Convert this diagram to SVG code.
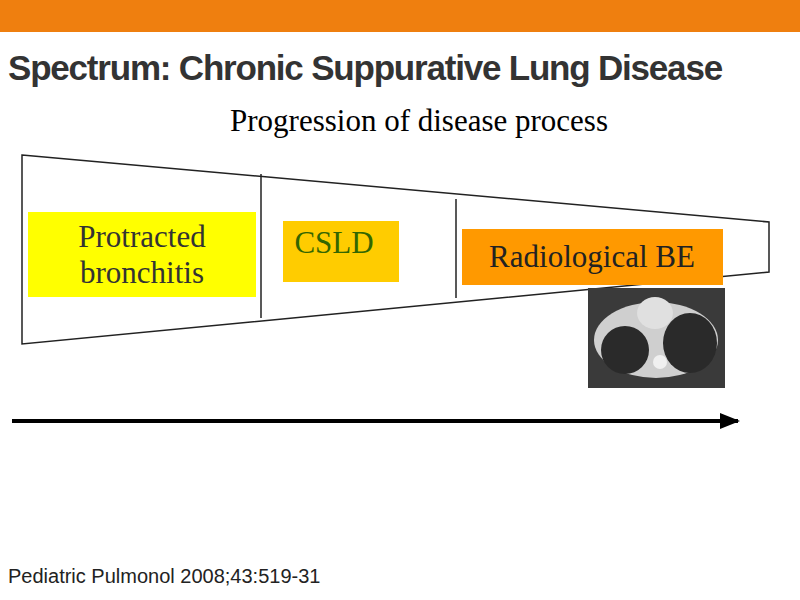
<svg xmlns="http://www.w3.org/2000/svg" width="800" height="600" viewBox="0 0 800 600">
<style>
.t{font-family:"Liberation Serif",serif;font-size:31px;text-anchor:middle}
.ln{stroke:#222;stroke-width:1.5;fill:none}
</style>
<defs><marker id="ah" markerWidth="20" markerHeight="16" refX="18" refY="8" orient="auto" markerUnits="userSpaceOnUse" viewBox="0 0 20 16"><path d="M0,0 L20,8 L0,16z" fill="#000"/></marker></defs>
<rect width="800" height="600" fill="#fff"/>
<rect x="0" y="0" width="800" height="32" fill="#EF7F0F"/>
<text x="8" y="80" font-family="Liberation Sans,Arial,sans-serif" font-weight="bold" font-size="35" fill="#333" letter-spacing="-1.2">Spectrum: Chronic Suppurative Lung Disease</text>
<text x="419" y="131" class="t" font-size="32">Progression of disease process</text>
<g id="funnel">
<path class="ln" d="M22,155 L769,222 L769,272 L22,344 Z"/>
<line class="ln" x1="261" y1="174" x2="261" y2="318"/>
<line class="ln" x1="456" y1="199" x2="456" y2="298"/>
</g>
<g id="protracted"><rect x="28" y="212" width="228" height="85" fill="#FFFF00"/>
<text class="t" x="142" y="247" fill="#333">Protracted</text><text class="t" x="142" y="283" fill="#333">bronchitis</text></g>
<g id="csld"><rect x="283" y="221" width="116" height="61" fill="#FFCC00"/>
<text class="t" x="334" y="253" fill="#336600">CSLD</text></g>
<g id="rbe"><rect x="462" y="229" width="261" height="56" fill="#FF9900"/>
<text class="t" x="592" y="267" fill="#222">Radiological BE</text></g>
<g id="ct">
<rect x="588" y="288" width="137" height="100" fill="#3a3a3a"/>
<ellipse cx="656" cy="340" rx="62" ry="38" fill="#cfcfcf"/>
<ellipse cx="625" cy="350" rx="24" ry="24" fill="#2a2a2a"/>
<ellipse cx="690" cy="343" rx="27" ry="30" fill="#2a2a2a"/>
<ellipse cx="655" cy="313" rx="18" ry="16" fill="#e0e0e0"/>
<circle cx="660" cy="362" r="7" fill="#f0f0f0"/>
</g>
<g id="connectors"><line x1="12" y1="421" x2="738" y2="421" stroke="#000" stroke-width="4" marker-end="url(#ah)"/></g>
<text x="8" y="583" font-family="Liberation Sans,Arial,sans-serif" font-size="20" fill="#222">Pediatric Pulmonol 2008;43:519-31</text>
</svg>
